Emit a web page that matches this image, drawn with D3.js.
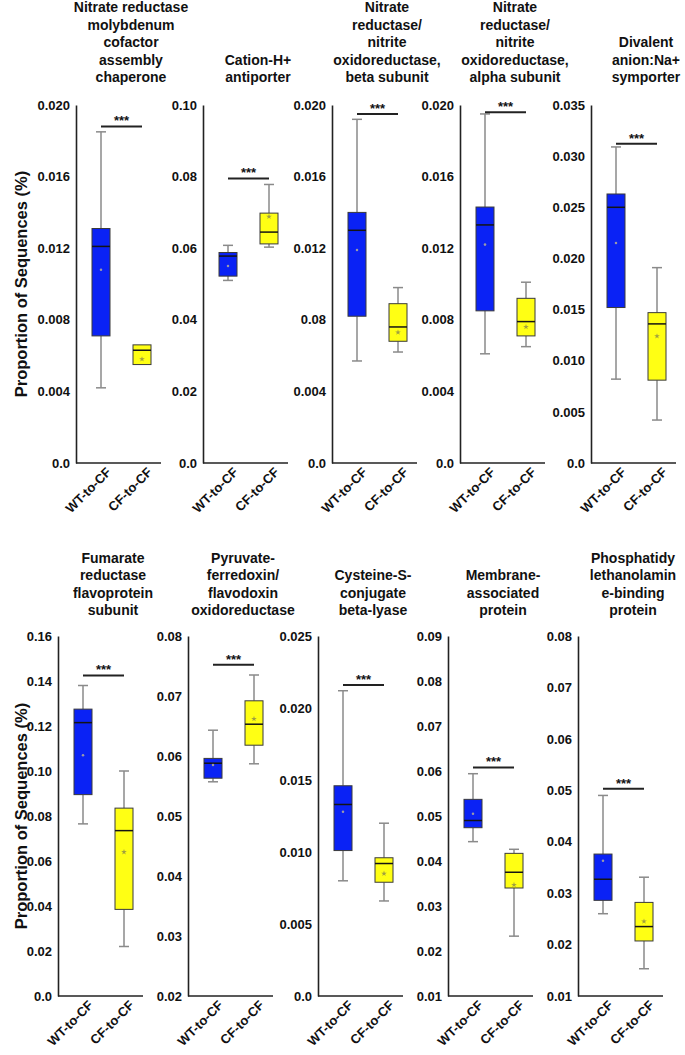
<!DOCTYPE html>
<html><head><meta charset="utf-8">
<script src="https://cdn.jsdelivr.net/npm/d3@7"></script>
<style>
body{margin:0;background:#fff}
text{font-family:"Liberation Sans",Arial,Helvetica,sans-serif;font-weight:bold;fill:#111}
</style>
</head><body>
<svg id="c" width="685" height="1055"></svg>
<script>
// ---------- data ----------
const categories = ["WT-to-CF", "CF-to-CF"];
const titles = [
  ["Nitrate reductase","molybdenum","cofactor","assembly","chaperone"],
  ["Cation-H+","antiporter"],
  ["Nitrate","reductase/","nitrite","oxidoreductase,","beta subunit"],
  ["Nitrate","reductase/","nitrite","oxidoreductase,","alpha subunit"],
  ["Divalent","anion:Na+","symporter"],
  ["Fumarate","reductase","flavoprotein","subunit"],
  ["Pyruvate-","ferredoxin/","flavodoxin","oxidoreductase"],
  ["Cysteine-S-","conjugate","beta-lyase"],
  ["Membrane-","associated","protein"],
  ["Phosphatidy","lethanolamin","e-binding","protein"]
];
const yMin = [0, 0, 0, 0, 0, 0, 0.02, 0, 0.01, 0.01];
const yMax = [0.020, 0.10, 0.020, 0.020, 0.035, 0.16, 0.08, 0.025, 0.09, 0.08];
const tickValues = [
  [0, 0.004, 0.008, 0.012, 0.016, 0.020],
  [0, 0.02, 0.04, 0.06, 0.08, 0.10],
  [0, 0.004, 0.008, 0.012, 0.016, 0.020],
  [0, 0.004, 0.008, 0.012, 0.016, 0.020],
  [0, 0.005, 0.010, 0.015, 0.020, 0.025, 0.030, 0.035],
  [0, 0.02, 0.04, 0.06, 0.08, 0.10, 0.12, 0.14, 0.16],
  [0.02, 0.03, 0.04, 0.05, 0.06, 0.07, 0.08],
  [0, 0.005, 0.010, 0.015, 0.020, 0.025],
  [0.01, 0.02, 0.03, 0.04, 0.05, 0.06, 0.07, 0.08, 0.09],
  [0.01, 0.02, 0.03, 0.04, 0.05, 0.06, 0.07, 0.08]
];
const tickLabels = [
  ["0.0","0.004","0.008","0.012","0.016","0.020"],
  ["0.0","0.02","0.04","0.06","0.08","0.10"],
  ["0.0","0.004","0.08","0.012","0.016","0.020"],
  ["0.0","0.004","0.008","0.012","0.016","0.020"],
  ["0.0","0.005","0.010","0.015","0.020","0.025","0.030","0.035"],
  ["0.0","0.02","0.04","0.06","0.08","0.10","0.12","0.14","0.16"],
  ["0.02","0.03","0.04","0.05","0.06","0.07","0.08"],
  ["0.0","0.005","0.010","0.015","0.020","0.025"],
  ["0.01","0.02","0.03","0.04","0.05","0.06","0.07","0.08","0.09"],
  ["0.01","0.02","0.03","0.04","0.05","0.06","0.07","0.08"]
];
// [whisker low, Q1, median, Q3, whisker high, mean]
const wtStats = [
  [0.0042, 0.0071, 0.0121, 0.0131, 0.0185, 0.0108],
  [0.0510, 0.0522, 0.0578, 0.0588, 0.0608, 0.0550],
  [0.0057, 0.0082, 0.0130, 0.0140, 0.0192, 0.0119],
  [0.0061, 0.0085, 0.0133, 0.0143, 0.0195, 0.0122],
  [0.0082, 0.0152, 0.0250, 0.0263, 0.0309, 0.0215],
  [0.0765, 0.0895, 0.1215, 0.1275, 0.1380, 0.1070],
  [0.0557, 0.0563, 0.0588, 0.0596, 0.0643, 0.0585],
  [0.0080, 0.0101, 0.0133, 0.0146, 0.0212, 0.0128],
  [0.0443, 0.0474, 0.0490, 0.0537, 0.0594, 0.0505],
  [0.0260, 0.0286, 0.0327, 0.0376, 0.0490, 0.0363]
];
const cfStats = [
  [0.0055, 0.0055, 0.0063, 0.0066, 0.0066, 0.0058],
  [0.0603, 0.0612, 0.0645, 0.0698, 0.0778, 0.0688],
  [0.0062, 0.0068, 0.0076, 0.0089, 0.0098, 0.0073],
  [0.0065, 0.0071, 0.0079, 0.0092, 0.0101, 0.0076],
  [0.0042, 0.0081, 0.0136, 0.0147, 0.0191, 0.0124],
  [0.0220, 0.0385, 0.0735, 0.0835, 0.1000, 0.0640],
  [0.0587, 0.0618, 0.0653, 0.0692, 0.0735, 0.0662],
  [0.0066, 0.0079, 0.0092, 0.0096, 0.0120, 0.0085],
  [0.0233, 0.0340, 0.0375, 0.0417, 0.0426, 0.0347],
  [0.0153, 0.0207, 0.0235, 0.0282, 0.0331, 0.0245]
];
const sigLevel = [0.0188, 0.0795, 0.0195, 0.0196, 0.0312, 0.1425, 0.0752, 0.0216, 0.0608, 0.0503];
const sigLabel = "***";
const yTitle = "Proportion of Sequences (%)";

// ---------- layout ----------
const rows = [
  {top: 105, bottom: 463, titleBase: 82, titleY: 284},
  {top: 636, bottom: 996, titleBase: 615, titleY: 816}
];
const axisX = [76, 203, 332, 460, 591, 58, 188, 318, 448, 578];
const plotW = 85;
const boxW = 18;
const colors = {"WT-to-CF": "#0a22f5", "CF-to-CF": "#ffff14"};

const svg = d3.select("#c");

rows.forEach(r => {
  svg.append("text")
    .attr("transform", `translate(27,${r.titleY}) rotate(-90)`)
    .attr("text-anchor", "middle")
    .style("font-size", "16.5px")
    .text(yTitle);
});

titles.forEach((t, i) => {
  const r = rows[i < 5 ? 0 : 1];
  const g = svg.append("g").attr("transform", `translate(${axisX[i]},0)`);
  const y = d3.scaleLinear().domain([yMin[i], yMax[i]]).range([r.bottom, r.top]);
  const x = d3.scaleBand().domain(categories).range([4.5, 86.5]);
  const cx = c => x(c) + x.bandwidth() / 2;

  // title
  const tt = g.append("text").attr("text-anchor", "middle").style("font-size", "14px");
  t.forEach((line, j) => {
    tt.append("tspan").attr("x", 55)
      .attr("y", r.titleBase - (t.length - 1 - j) * 17.5).text(line);
  });

  // y axis
  const ya = g.append("g").call(
    d3.axisLeft(y).tickValues(tickValues[i])
      .tickFormat((d, j) => tickLabels[i][j]).tickSize(0).tickPadding(6));
  ya.select(".domain").attr("stroke", "#222").attr("stroke-width", 1.6);
  ya.selectAll("text").style("font-size", "13px").style("font-family", null).attr("fill", "#111");

  // x axis
  g.append("line").attr("x1", 0).attr("x2", plotW)
    .attr("y1", r.bottom).attr("y2", r.bottom)
    .attr("stroke", "#222").attr("stroke-width", 1.6);
  const xa = g.append("g").attr("transform", `translate(0,${r.bottom})`)
    .call(d3.axisBottom(x).tickSize(0));
  xa.select(".domain").remove();
  xa.selectAll("text")
    .style("font-size", "13px").style("font-family", null).attr("fill", "#111")
    .attr("text-anchor", "end")
    .attr("transform", "translate(4,3) rotate(-45)")
    .attr("dy", "0.75em").attr("y", 0);

  // boxes
  [[categories[0], wtStats[i]], [categories[1], cfStats[i]]].forEach(([c, s]) => {
    const [lo, q1, med, q3, hi, mean] = s;
    const xc = cx(c);
    const wg = g.append("g").attr("stroke", "#8a8a8a").attr("stroke-width", 1.5);
    if (hi > q3) {
      wg.append("line").attr("x1", xc).attr("x2", xc).attr("y1", y(hi)).attr("y2", y(q3));
      wg.append("line").attr("x1", xc - 5).attr("x2", xc + 5).attr("y1", y(hi)).attr("y2", y(hi));
    }
    if (lo < q1) {
      wg.append("line").attr("x1", xc).attr("x2", xc).attr("y1", y(q1)).attr("y2", y(lo));
      wg.append("line").attr("x1", xc - 5).attr("x2", xc + 5).attr("y1", y(lo)).attr("y2", y(lo));
    }
    g.append("rect").attr("x", xc - boxW / 2).attr("width", boxW)
      .attr("y", y(q3)).attr("height", y(q1) - y(q3))
      .attr("fill", colors[c]).attr("stroke", "#3a3a3a").attr("stroke-width", 1);
    g.append("line").attr("x1", xc - boxW / 2).attr("x2", xc + boxW / 2)
      .attr("y1", y(med)).attr("y2", y(med))
      .attr("stroke", "#141414").attr("stroke-width", 1.5);
    g.append("path")
      .attr("transform", `translate(${xc},${y(mean)})`)
      .attr("d", d3.symbol().type(c === categories[0] ? d3.symbolCircle : d3.symbolStar).size(c === categories[0] ? 5 : 10)())
      .attr("fill", c === categories[0] ? "#9a9aa8" : "#a0a040");
  });

  // significance bar
  const sy = y(sigLevel[i]);
  g.append("line").attr("x1", cx(categories[0])).attr("x2", cx(categories[1]))
    .attr("y1", sy).attr("y2", sy).attr("stroke", "#222").attr("stroke-width", 2);
  g.append("text").attr("x", (cx(categories[0]) + cx(categories[1])) / 2).attr("y", sy - 1)
    .attr("text-anchor", "middle").style("font-size", "13px").text(sigLabel);
});
</script>
</body></html>
